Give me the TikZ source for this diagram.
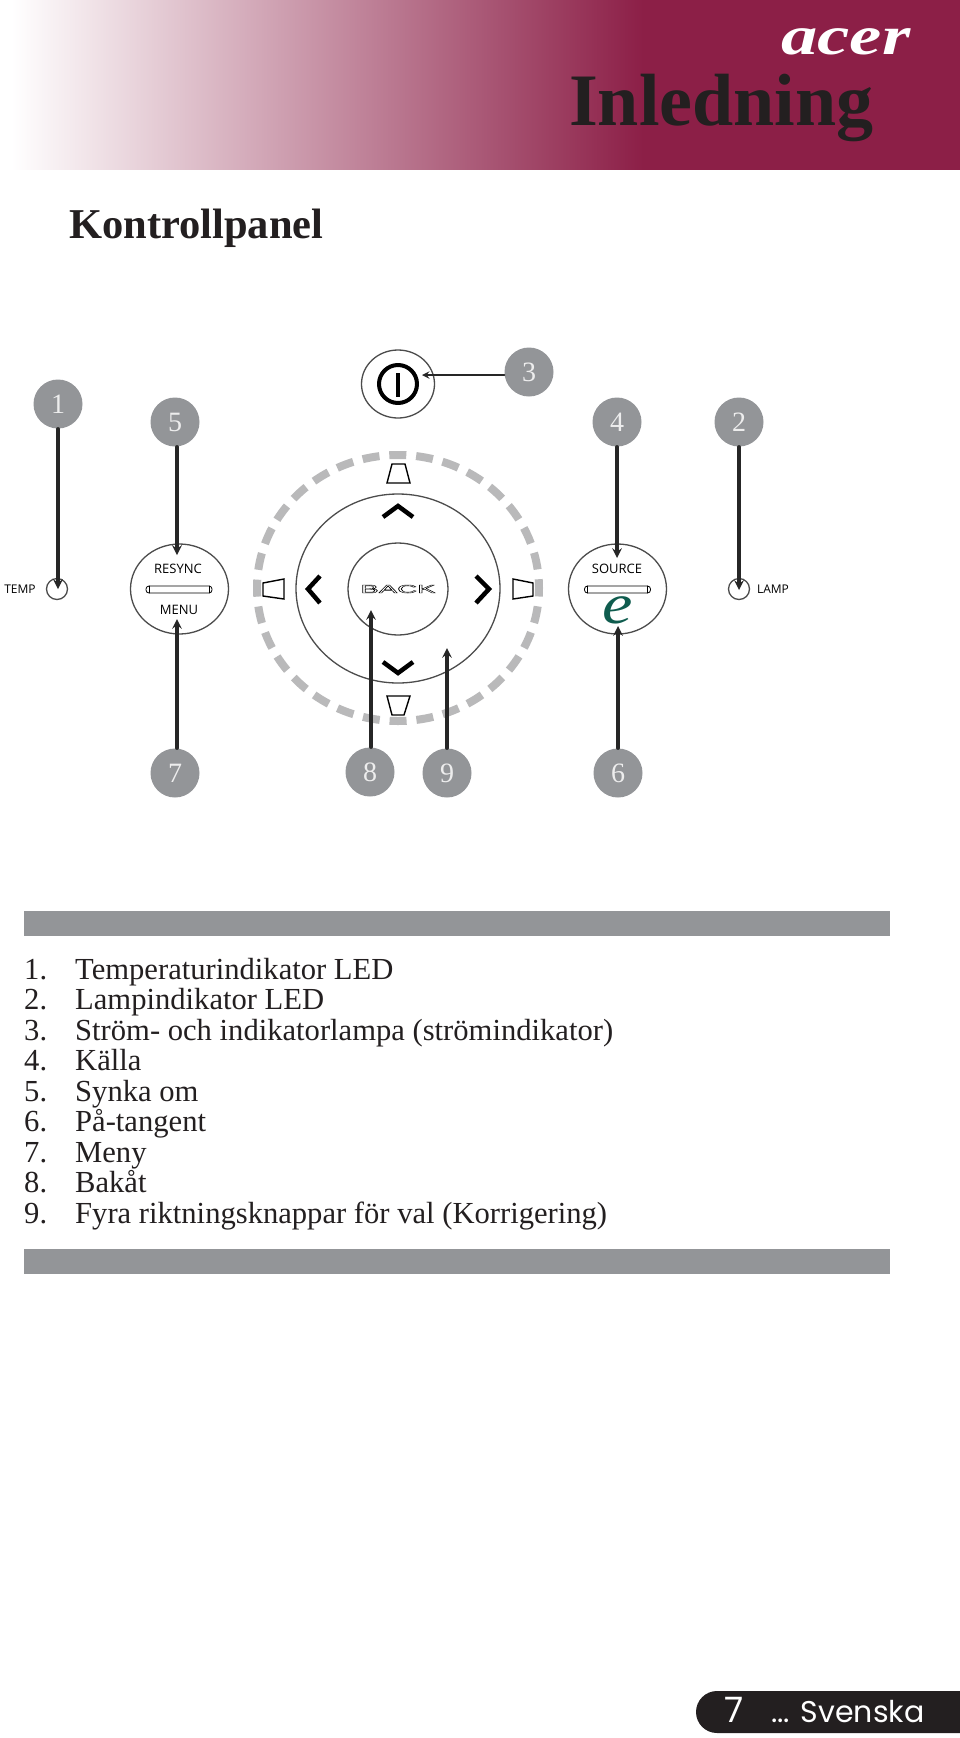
\documentclass[tikz,border=0pt]{standalone}
\usepackage{fontspec}
\setmainfont{Liberation Serif}
\setsansfont{Open Sans}
\newfontfamily\footfont{Poppins}
\newfontfamily\backfont{Liberation Sans}
\definecolor{maroon}{HTML}{8C1F47}
\definecolor{inkdark}{HTML}{231F20}
\definecolor{bargray}{HTML}{939598}
\definecolor{ringgray}{HTML}{B9B9BA}
\definecolor{leafgreen}{HTML}{0F5C4E}
\pgfdeclarehorizontalshading{bannerfade}{100bp}{color(0bp)=(white);color(25.6bp)=(white);color(58.5bp)=(maroon);color(100bp)=(maroon)}
\newcommand{\fsz}[1]{\fontsize{#1}{#1}\selectfont}
\tikzset{
numcirc/.style={circle,fill=bargray,text=white!93!black,minimum size=49pt,inner sep=0pt,font=\fsz{28}},
btn/.style={draw=black!70,line width=1.3pt},
callout/.style={->,draw=black!85,line width=3.2pt,>=stealth},
panellabel/.style={font=\sffamily\fsz{13},inner sep=0pt},
chev/.style={line width=4.5pt,line cap=butt,line join=miter},
trap/.style={line width=1.4pt,line join=miter},
listtext/.style={anchor=base west,inner sep=0pt,text=inkdark,font=\fsz{30.6}},
}
\begin{document}
\begin{tikzpicture}[x=1pt,y=-1pt,line cap=round,line join=round]
\useasboundingbox (0,0) rectangle (960,1738);
\fill[white] (0,0) rectangle (960,1738);
% banner
\shade[shading=bannerfade] (0,0) rectangle (960,169);
\node[anchor=base west,inner sep=0pt,text=white,xscale=1.32,font=\bfseries\itshape\fsz{55}] (logo) at (781,54){acer};
\node[anchor=base west,inner sep=0pt,text=inkdark,font=\bfseries\fsz{74}] (chapter) at (569,125){Inledning};
\node[anchor=base west,inner sep=0pt,text=inkdark,font=\bfseries\fsz{42.5}] (heading) at (69,238){Kontrollpanel};
% dial
\draw[ringgray,line width=8pt,line cap=butt,dash pattern=on 17pt off 9.9pt,dash phase=8.5pt] (398,588) ellipse (141 and 133);
\draw[btn] (398,588.5) ellipse (102 and 94.5);
\draw[btn] (398,589) ellipse (50 and 46);
\draw[btn] (398,384) ellipse (36.5 and 34);
\draw[btn] (179.5,589) ellipse (49 and 45);
\draw[btn] (617.5,589) ellipse (49 and 45);
\draw[btn] (57,589) circle (10.5);
\draw[btn] (739,589) circle (10.5);
% power glyph
\draw[line width=4pt] (398,384) circle (19);
\draw[line width=4.4pt,line cap=butt] (398,373)--(398,397);
% chevrons
\draw[chev] (383,517)--(398,506)--(413,517);
\draw[chev] (383,662)--(398,673)--(413,662);
\draw[chev] (320,576)--(308,589)--(320,603);
\draw[chev] (476,576)--(489,589)--(476,603);
% keystone marks
\draw[trap] (387,483)--(410,483)--(405,464)--(392,464)--cycle;
\draw[trap] (387,696)--(410,696)--(404,715)--(392,715)--cycle;
\draw[trap] (263,583)--(284,579)--(284,599)--(263,596)--cycle;
\draw[trap] (513,579)--(533,583)--(533,596)--(513,599)--cycle;
% slots
\foreach \x in {179,617.5}{
\draw[line width=.8pt,rounded corners=3pt] (\x-33,586)rectangle(\x+33,593);
\draw[line width=.6pt] (\x-30,586)--(\x-30,593) (\x+30,586)--(\x+30,593);
}
% labels on the panel
\node[panellabel] (resync) at (178,569){RESYNC};
\node[panellabel] (menu) at (179,610){MENU};
\node[panellabel] (source) at (617,569){SOURCE};
\node[panellabel,font=\sffamily\fsz{12}] (temp) at (20,589){TEMP};
\node[panellabel,font=\sffamily\fsz{12}] (lamp) at (773,589){LAMP};
\node[inner sep=0pt,xscale=2.4,font=\backfont\fsz{11.5}] (back) at (398,589){\special{pdf:literal 1 Tr 0.35 w}BACK\special{pdf:literal 0 Tr}};
\node[anchor=base,inner sep=0pt,xscale=1.2,text=leafgreen,font=\itshape\fsz{57}] (elogo) at (618,623){e};
% numbered callouts
\foreach \n/\x/\y in {1/58/404,2/739/422,3/529/372,4/617/422,5/175/422,6/618/773,7/175/773,8/370/772,9/447/773}
\node[numcirc] (n\n) at (\x,\y){\n};
\foreach \n/\x/\y in {1/58/589,2/739/590,4/617/558,5/177/555,7/177/619,8/371/610,9/447/648,6/618/626}{
\coordinate (tip\n) at (\x,\y);
}
\foreach \n in {1,2,4,5}\draw[callout] (tip\n |- n\n.south)--(tip\n);
\foreach \n in {6,7,8,9}\draw[callout] (tip\n |- n\n.north)--(tip\n);
\coordinate (tip3) at (422,375);
\draw[callout,line width=2.2pt] (n3.west |- tip3)--(tip3);
% list
\fill[bargray] (24,911) rectangle (890,936);
\fill[bargray] (24,1249) rectangle (890,1274);
\foreach \i/\y/\t in {1/979/Temperaturindikator LED,2/1009.5/Lampindikator LED,3/1040/Ström- och indikatorlampa (strömindikator),4/1070.5/Källa,5/1101/Synka om,6/1131.5/På-tangent,7/1162/Meny,8/1192.5/Bakåt,9/1223/Fyra riktningsknappar för val (Korrigering)}{
\node[listtext] (num\i) at (24,\y){\i.};
\node[listtext] (item\i) at (75,\y){\t};
}
% footer
\fill[inkdark] (960,1691)--(717,1691) arc (270:90:21)--(960,1733)--cycle;
\node[inner sep=0pt,text=white,font=\footfont\fsz{35}] (pageno) at (734,1710){7};
\node[anchor=base west,inner sep=0pt,text=white,font=\footfont\fsz{30}] (lang) at (771,1722){... Svenska};
\end{tikzpicture}
\end{document}
